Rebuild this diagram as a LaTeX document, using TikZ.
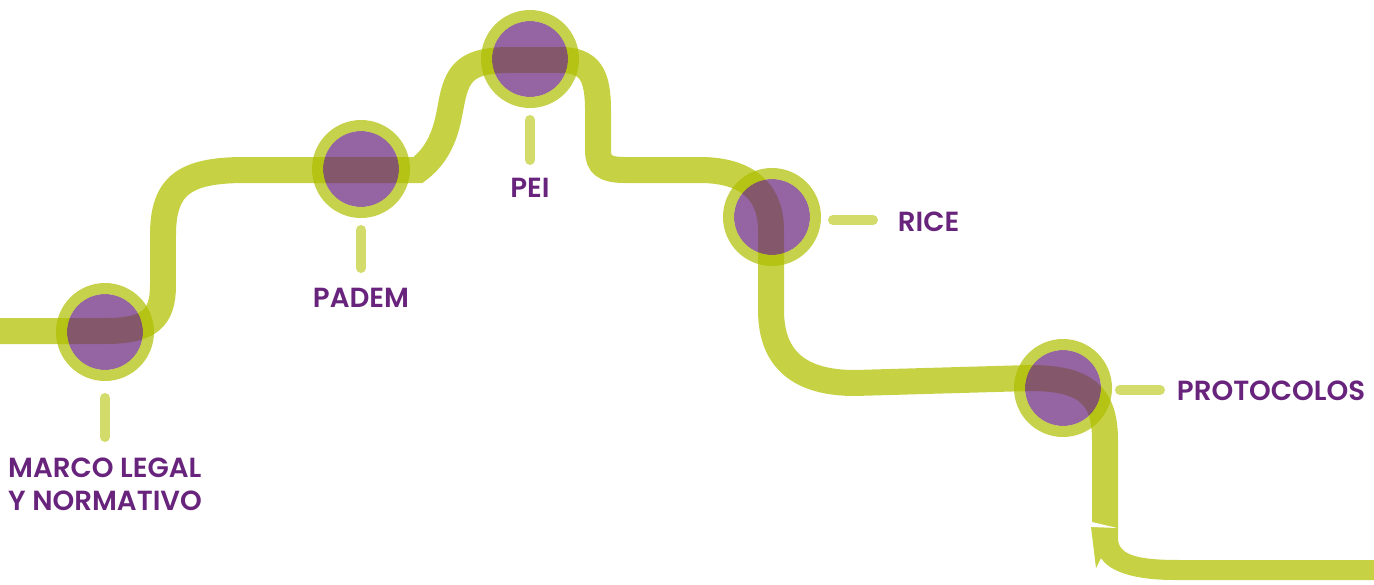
\documentclass[tikz,border=0pt]{standalone}
\usepackage{fontspec}
\usepackage{xcolor}
\usepackage{tikz}
\usetikzlibrary{positioning}
\newfontfamily\roadfont{Poppins}[UprightFont=* SemiBold]
\definecolor{roadgreen}{RGB}{198,210,68}
\definecolor{ringgreen}{RGB}{174,191,0}
\definecolor{stemgreen}{RGB}{211,219,106}
\definecolor{hitopurple}{RGB}{104,36,124}
\tikzstyle{road} = [line width=0.52cm, draw=roadgreen]
\tikzstyle{milestone} = [circle, minimum size=1.52cm, inner sep=0, outer sep=0, fill=hitopurple, fill opacity=0.7]
\tikzstyle{ring} = [line width=0.22cm, draw=ringgreen, draw opacity=0.7]
\tikzstyle{stem} = [line width=0.2cm, line cap=round, draw=stemgreen]
\tikzstyle{tagtext} = [inner sep=0, outer sep=0, text=hitopurple, font=\roadfont\fontsize{15.75}{18.7}\selectfont]

\begin{document}
\begin{tikzpicture}
			[x=0.02cm, y=-0.02cm]
			\useasboundingbox (0,0) rectangle (1374,585);
			
			% the road
			\draw[road] (0,331) -- (105,331) .. controls (150,331) and (163,318) .. (163,285) -- (163,235)
			.. controls (163,185) and (185,170) .. (245,170) -- (418,170)
			.. controls (445,150) and (448,120) .. (452,100) .. controls (458,70) and (470,60) .. (510,60) -- (560,60)
			.. controls (590,60) and (598,75) .. (598,110) -- (598,150) .. controls (598,165) and (605,170) .. (625,170) -- (700,170)
			.. controls (745,170) and (771,190) .. (771,230) -- (771,310) .. controls (771,360) and (800,383) .. (855,383) -- (1030,378)
			.. controls (1085,378) and (1105,395) .. (1105,440) -- (1105,529);
			\fill[roadgreen] (1091,527) -- (1118,527) -- (1118,540) .. controls (1120,556) and (1140,560) .. (1180,560) -- (1374,560)
			-- (1374,580) -- (1175,580) .. controls (1135,580) and (1110,572) .. (1101,558) -- (1096,568) -- cycle;
			\fill[white] (1092,522) -- (1117,528) -- (1092,527) -- cycle;
			
			% milestones
			\node[milestone] (marco) at (105,332) {};
			\node[milestone] (padem) at (361,169) {};
			\node[milestone] (pei) at (530,59) {};
			\node[milestone] (rice) at (772,217) {};
			\node[milestone] (prot) at (1063,388) {};
			\foreach \n in {marco,padem,pei,rice,prot}
			\draw[ring] (\n.center) circle[radius=0.87cm];
			
			\node[tagtext, align=left, below=1.76cm of marco] (marcolbl) {MARCO LEGAL\\Y NORMATIVO};
			\node[tagtext, below=1.62cm of padem] (pademlbl) {PADEM};
			\node[tagtext, below=1.62cm of pei] (peilbl) {PEI};
			\node[tagtext, right=1.76cm of rice, yshift=-0.1cm] (ricelbl) {RICE};
			\node[tagtext, right=1.52cm of prot, yshift=-0.06cm] (protlbl) {PROTOCOLOS};
			
			\draw[stem, shorten <=1.32cm, shorten >=0.42cm] (marco.center) -- (marco.center |- marcolbl.north);
			\draw[stem, shorten <=1.22cm, shorten >=0.4cm] (padem.center) -- (pademlbl.north);
			\draw[stem, shorten <=1.22cm, shorten >=0.36cm] (pei.center) -- (peilbl.north);
			\draw[stem, shorten <=1.22cm, shorten >=0.5cm] ([yshift=-0.06cm]rice.center) -- ([yshift=-0.06cm]rice.center -| ricelbl.west);
			\draw[stem, shorten <=1.14cm, shorten >=0.34cm] ([yshift=-0.04cm]prot.center) -- ([yshift=-0.04cm]prot.center -| protlbl.west);
			\end{tikzpicture}
\end{document}
